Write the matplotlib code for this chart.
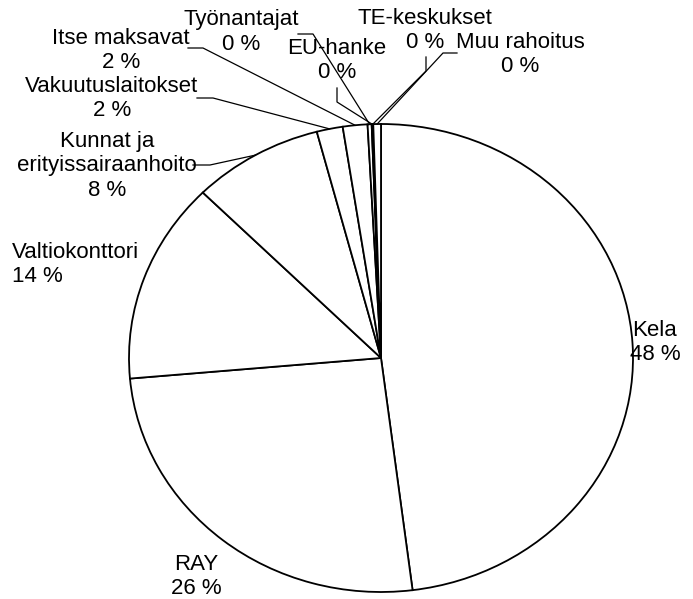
import numpy as np
import matplotlib
matplotlib.use("Agg")
import matplotlib.pyplot as plt

# ---------------------------------------------------------------------------
# Data
# ---------------------------------------------------------------------------
sources = [
    "Kela",
    "RAY",
    "Valtiokonttori",
    "Kunnat ja\nerityissairaanhoito",
    "Vakuutuslaitokset",
    "Itse maksavat",
    "Työnantajat",
    "EU-hanke",
    "TE-keskukset",
    "Muu rahoitus",
]
shares = [48.0, 25.6, 13.9, 8.4, 1.67, 1.58, 0.26, 0.05, 0.05, 0.49]

# ---------------------------------------------------------------------------
# Layout (pixel positions in the 693x599 picture)
# ---------------------------------------------------------------------------
W, H = 693, 599
CX, CY = 381, 358          # pie centre
RX, RY = 252, 234          # pie is drawn slightly squashed
LINE_PX = 24               # label line pitch

label_pos = [
    (655, 342), (196, 577), (12, 265), (107, 166), (112, 98),
    (121, 51), (241, 32), (337, 60), (425, 30), (520, 54),
]
label_align = ["center", "center", "left", "center", "center",
               "center", "center", "center", "center", "center"]
# leader: first point at label, elbow; last point is the slice edge
leaders = {
    3: [(193, 165), (210, 165)],
    4: [(197, 98), (213, 98)],
    5: [(188, 48), (203, 48)],
    6: [(298, 34), (313, 34)],
    7: [(337, 88), (337, 102)],
    8: [(426, 57), (426, 71)],
    9: [(457, 53), (443, 53)],
}


def px(x, y):
    return (x - CX) / RX, (CY - y) / RY


fig = plt.figure(figsize=(W / 100, H / 100), dpi=100)
ax = fig.add_axes([0, 0, 1, 1])

wedges, _ = ax.pie(
    shares, startangle=90, counterclock=False,
    colors=["white"] * len(shares),
    wedgeprops=dict(edgecolor="black", linewidth=1.3),
)
ax.set_aspect("auto")
x0, y1 = px(0, 0)
x1, y0 = px(W, H)
ax.set_xlim(x0, x1)
ax.set_ylim(y0, y1)
ax.axis("off")

for i, (name, val) in enumerate(zip(sources, shares)):
    lines = name.split("\n") + [f"{round(val):.0f} %"]
    bx, by = label_pos[i]
    top = by - LINE_PX * (len(lines) - 1) / 2
    for k, line in enumerate(lines):
        ax.text(*px(bx, top + k * LINE_PX), line, ha=label_align[i], va="center",
                fontsize=16, family="Liberation Sans")
    if i in leaders:
        w = wedges[i]
        mid = np.deg2rad((w.theta1 + w.theta2) / 2)
        pts = [px(*p) for p in leaders[i]] + [(np.cos(mid), np.sin(mid))]
        xs, ys = zip(*pts)
        ax.plot(xs, ys, color="black", linewidth=0.9)

fig.savefig("out.png", dpi=100)
